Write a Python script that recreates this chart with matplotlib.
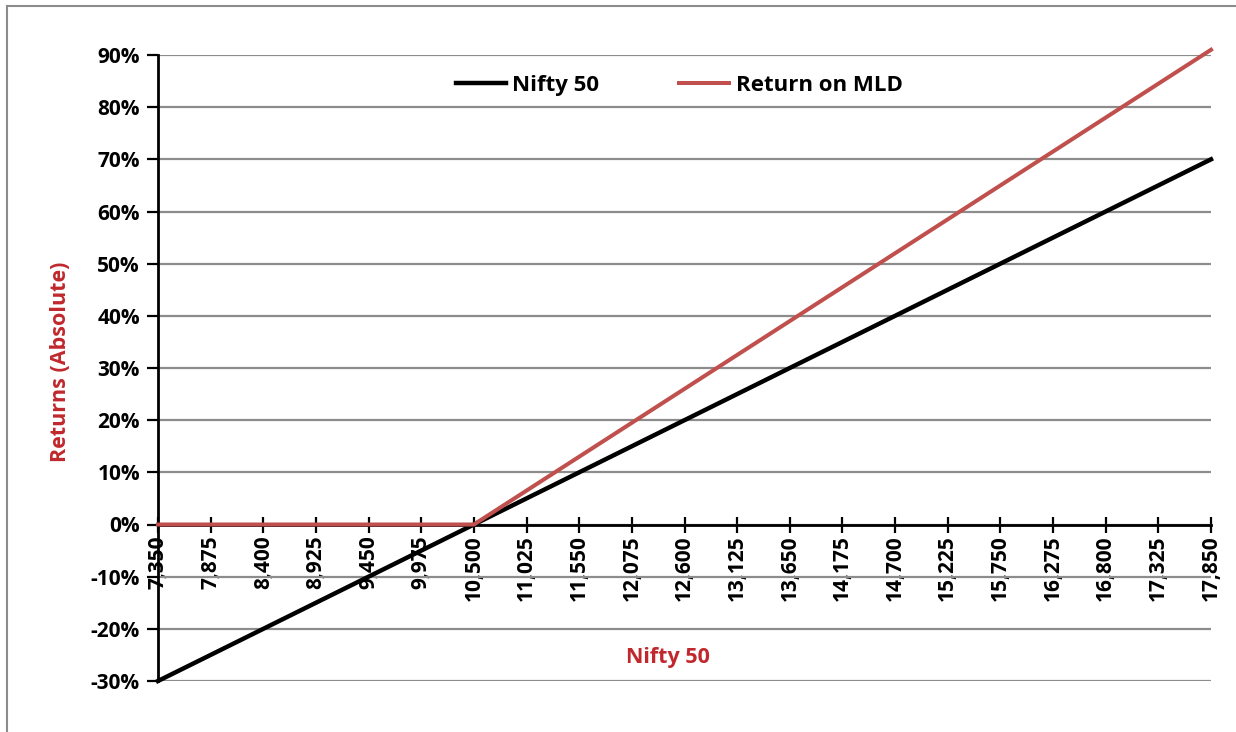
import matplotlib.pyplot as plt
from matplotlib.lines import Line2D
from matplotlib.ticker import FuncFormatter

# Nifty 50 levels (categories) and returns, in %
nifty_levels = [7350, 7875, 8400, 8925, 9450, 9975, 10500, 11025, 11550, 12075, 12600,
                13125, 13650, 14175, 14700, 15225, 15750, 16275, 16800, 17325, 17850]
nifty_return = [-30, -25, -20, -15, -10, -5, 0, 5, 10, 15, 20,
                25, 30, 35, 40, 45, 50, 55, 60, 65, 70]
mld_return = [0, 0, 0, 0, 0, 0, 0, 6.5, 13, 19.5, 26,
              32.5, 39, 45.5, 52, 58.5, 65, 71.5, 78, 84.5, 91]

plt.rcParams['font.family'] = ['Open Sans', 'DejaVu Sans']
plt.rcParams['font.weight'] = 'bold'

red_txt = '#C0282D'
red_line = '#C0504D'
grid_col = '#8C8C8C'

fig = plt.figure(figsize=(12.36, 7.32), dpi=100)
ax = fig.add_axes([158 / 1236, 1 - 681 / 732, (1211 - 158) / 1236, (681 - 55) / 732])

# spine position first - it resets tick settings
for s in ['top', 'right']:
    ax.spines[s].set_visible(False)
ax.spines['bottom'].set_position(('data', 0))
ax.spines['bottom'].set_linewidth(2)
ax.spines['bottom'].set_zorder(3)
ax.spines['left'].set_linewidth(2)

x = list(range(len(nifty_levels)))
ax.plot(x, nifty_return, color='black', lw=3.2, label='Nifty 50', clip_on=False, zorder=4)
ax.plot(x, mld_return, color=red_line, lw=2.9, label='Return on MLD', clip_on=False, zorder=5)

ax.set_xlim(0, len(x) - 1)
ax.set_ylim(-30, 90)
ax.set_yticks(range(-30, 91, 10))
ax.yaxis.set_major_formatter(FuncFormatter(lambda v, p: f'{int(v)}%'))
ax.set_xticks(x)
ax.set_xticklabels([f'{v:,}' for v in nifty_levels], rotation=90, fontsize=15, fontweight='bold')

ax.grid(axis='y', color=grid_col, lw=1.6, zorder=1)
ax.set_axisbelow(True)

ax.tick_params(axis='x', direction='inout', length=12, width=1.6, pad=2, labelrotation=90)
ax.tick_params(axis='y', direction='out', length=8, width=1.6, labelsize=15, pad=5)
for t in ax.get_yticklabels():
    t.set_fontweight('bold')

ax.legend(loc='center', bbox_to_anchor=(0.495, 0.952), ncol=2, frameon=False,
          handlelength=2.25, handletextpad=0.3, columnspacing=3.6,
          prop={'weight': 'bold', 'size': 16})

fig.text(60 / 1236, 1 - 362 / 732, 'Returns (Absolute)', rotation=90, color=red_txt,
         fontsize=15.5, fontweight='bold', ha='center', va='center')
fig.text(668 / 1236, 1 - 658 / 732, 'Nifty 50', color=red_txt,
         fontsize=15.5, fontweight='bold', ha='center', va='center')

# outer chart frame (cropped on right and bottom)
fig.add_artist(Line2D([7 / 1236, 7 / 1236], [0, 1 - 6 / 732], color='#8C8C8C', lw=1.5))
fig.add_artist(Line2D([7 / 1236, 1], [1 - 6 / 732, 1 - 6 / 732], color='#8C8C8C', lw=1.5))

fig.savefig('out.png', dpi=100)
